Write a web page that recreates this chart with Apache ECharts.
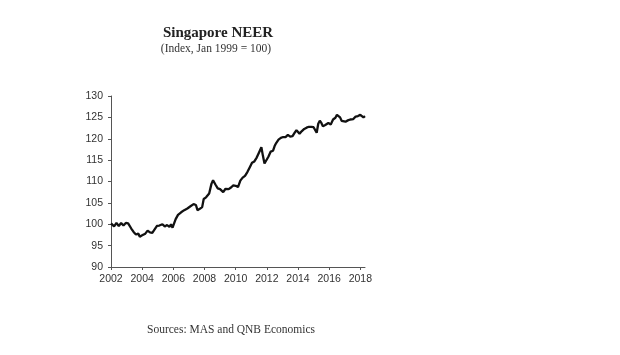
<!DOCTYPE html>
<html>
<head>
<meta charset="utf-8">
<script src="https://cdn.jsdelivr.net/npm/echarts@6/dist/echarts.min.js"></script>
<style>html,body{margin:0;padding:0;background:#fff;}#c{width:620px;height:355px;}</style>
</head>
<body>
<div id="c"></div>
<script>
var years = [2002.0,2002.1,2002.2,2002.35,2002.5,2002.65,2002.8,2002.95,2003.1,2003.3,2003.45,2003.6,2003.75,2003.85,2004.0,2004.2,2004.35,2004.5,2004.65,2004.8,2004.95,2005.1,2005.3,2005.45,2005.6,2005.75,2005.85,2005.95,2006.05,2006.15,2006.3,2006.5,2006.7,2006.9,2007.1,2007.3,2007.45,2007.55,2007.7,2007.85,2007.95,2008.1,2008.3,2008.45,2008.55,2008.7,2008.85,2009.0,2009.2,2009.35,2009.55,2009.7,2009.85,2010.0,2010.15,2010.3,2010.45,2010.6,2010.75,2010.9,2011.05,2011.2,2011.35,2011.5,2011.65,2011.75,2011.85,2011.95,2012.1,2012.25,2012.4,2012.5,2012.6,2012.75,2012.9,2013.05,2013.2,2013.35,2013.5,2013.65,2013.8,2013.9,2014.0,2014.1,2014.25,2014.4,2014.55,2014.7,2014.85,2015.0,2015.1,2015.2,2015.3,2015.4,2015.5,2015.6,2015.75,2015.85,2015.95,2016.1,2016.25,2016.4,2016.5,2016.6,2016.7,2016.8,2016.9,2017.05,2017.2,2017.35,2017.45,2017.55,2017.7,2017.85,2018.0,2018.1,2018.2,2018.3];
var neer = [100.2,99.8,99.5,100.3,99.6,100.3,99.7,100.3,100.2,99.0,98.2,97.6,97.8,97.1,97.4,97.8,98.5,98.1,98.0,98.8,99.6,99.7,100.0,99.5,99.8,99.4,100.0,99.2,99.6,101.2,102.2,102.8,103.3,103.7,104.2,104.7,104.5,103.3,103.6,104.0,105.9,106.3,107.2,109.5,110.3,109.3,108.4,108.2,107.5,108.3,108.2,108.6,109.1,109.0,108.7,110.2,110.9,111.3,112.2,113.3,114.4,114.7,115.6,116.8,118.0,116.0,114.2,113.8,115.8,117.0,117.2,118.3,119.0,119.8,120.2,120.4,120.4,120.9,120.5,120.6,121.5,122.0,121.6,121.2,121.8,122.3,122.6,122.8,122.8,122.7,122.4,121.4,123.5,124.2,123.7,122.9,123.2,123.0,123.7,123.3,124.5,124.9,125.6,126.0,125.0,124.2,123.9,124.0,124.3,124.5,124.9,124.6,125.2,125.3,125.6,125.4,125.0,125.3];
var xTicks = [2002,2004,2006,2008,2010,2012,2014,2016,2018];
var titleText = 'Singapore NEER';
var subtitleText = '(Index, Jan 1999 = 100)';
var sourceText = 'Sources: MAS and QNB Economics';

var chart = echarts.init(document.getElementById('c'), null, {renderer:'canvas'});
var pts = years.map(function(y,i){return [y, neer[i]];});
var axisCol = '#555';
chart.setOption({
  animation:false,
  backgroundColor:'#fff',
  title:[
    {text:titleText, left:213, top:21, textAlign:'center',
     textStyle:{fontFamily:'Liberation Serif', fontWeight:'bold', fontSize:15, color:'#222'}},
    {text:subtitleText, left:211, top:38, textAlign:'center',
     textStyle:{fontFamily:'Liberation Serif', fontWeight:'normal', fontSize:11.5, color:'#333'}},
    {text:sourceText, left:142, top:319,
     textStyle:{fontFamily:'Liberation Serif', fontWeight:'normal', fontSize:11.5, color:'#333'}}
  ],
  grid:{left:111, right:255, top:96, bottom:88, containLabel:false},
  xAxis:{type:'value', min:2002, max:2018.3, interval:2,
    splitLine:{show:false},
    axisLine:{show:true, lineStyle:{color:axisCol, width:1}},
    axisTick:{show:true, customValues:xTicks, length:3, lineStyle:{color:axisCol}},
    axisLabel:{customValues:xTicks, margin:7, fontFamily:'Liberation Sans', fontSize:10.5, color:'#333',
      formatter:function(v){return String(v);}}
  },
  yAxis:{type:'value', min:90, max:130, interval:5,
    splitLine:{show:false},
    axisLine:{show:true, lineStyle:{color:axisCol, width:1}},
    axisTick:{show:true, length:3, lineStyle:{color:axisCol}},
    axisLabel:{margin:8, fontFamily:'Liberation Sans', fontSize:10.5, color:'#333'}
  },
  series:[{type:'line', data:pts, showSymbol:false, smooth:false,
    lineStyle:{color:'#111', width:2.3}}]
});
</script>
</body>
</html>
